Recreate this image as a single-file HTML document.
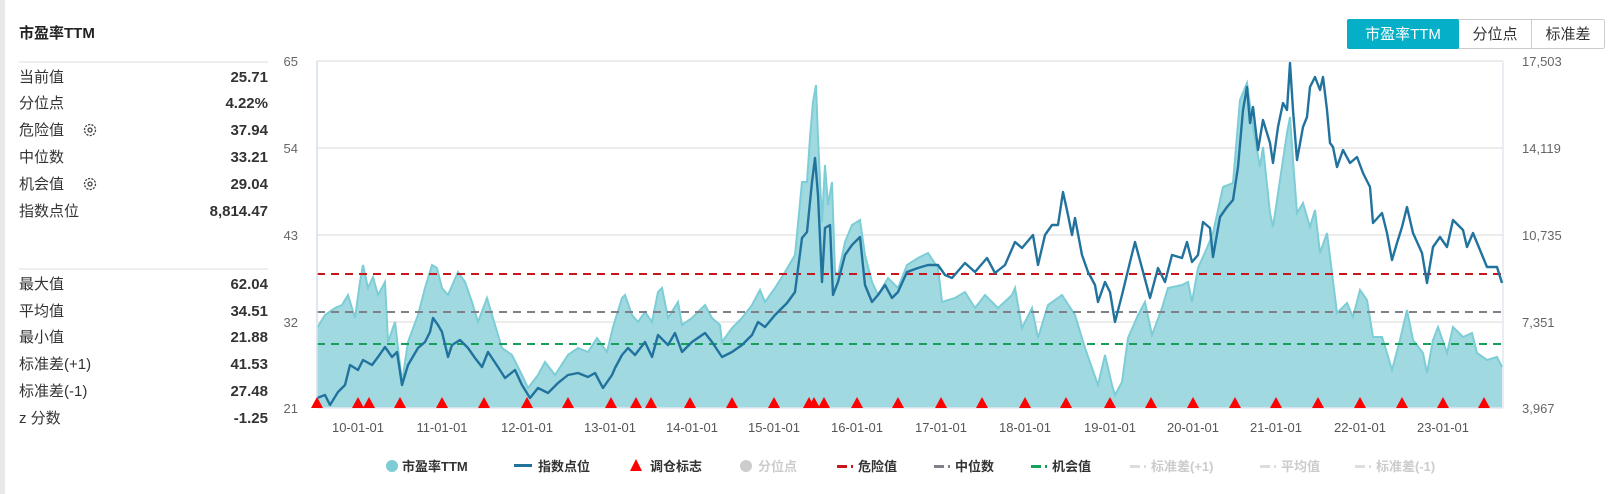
<!DOCTYPE html>
<html><head><meta charset="utf-8"><style>
body{margin:0;width:1612px;height:494px;background:#fff;overflow:hidden;font-family:"Liberation Sans","Noto Sans CJK SC",sans-serif;}
svg{position:absolute;left:0;top:0}
</style></head><body>
<svg width="1612" height="494" viewBox="0 0 1612 494" font-family="Liberation Sans, Noto Sans CJK SC, sans-serif">
<rect x="0" y="0" width="5" height="494" fill="#e8e8e8"/>
<text x="19" y="38" font-size="15" font-weight="bold" fill="#222">市盈率TTM</text>
<line x1="19" y1="62" x2="268" y2="62" stroke="#ddd"/>
<line x1="19" y1="269" x2="268" y2="269" stroke="#ddd"/>
<g font-size="15" fill="#333">
<text x="19" y="82">当前值</text><text x="19" y="108">分位点</text><text x="19" y="135">危险值</text>
<text x="19" y="162">中位数</text><text x="19" y="189">机会值</text><text x="19" y="216">指数点位</text>
<text x="19" y="289">最大值</text><text x="19" y="316">平均值</text><text x="19" y="342">最小值</text>
<text x="19" y="369">标准差(+1)</text><text x="19" y="396">标准差(-1)</text><text x="19" y="423">z 分数</text>
</g>
<g font-size="15" fill="#333" font-weight="bold" text-anchor="end">
<text x="268" y="82">25.71</text><text x="268" y="108">4.22%</text><text x="268" y="135">37.94</text>
<text x="268" y="162">33.21</text><text x="268" y="189">29.04</text><text x="268" y="216">8,814.47</text>
<text x="268" y="289">62.04</text><text x="268" y="316">34.51</text><text x="268" y="342">21.88</text>
<text x="268" y="369">41.53</text><text x="268" y="396">27.48</text><text x="268" y="423">-1.25</text>
</g>
<g fill="none" stroke="#444" stroke-width="1.3">
<circle cx="90" cy="130" r="5.5" stroke-dasharray="2.2 1.2"/><circle cx="90" cy="130" r="2"/>
<circle cx="90" cy="184" r="5.5" stroke-dasharray="2.2 1.2"/><circle cx="90" cy="184" r="2"/>
</g>
<rect x="1347.5" y="19.5" width="257" height="29" fill="#fff" stroke="#ccc" rx="2"/>
<rect x="1347" y="19" width="112" height="30" fill="#06afc8" rx="2"/>
<line x1="1531.5" y1="20" x2="1531.5" y2="48" stroke="#ccc"/>
<text x="1403" y="39" font-size="15" fill="#fff" text-anchor="middle">市盈率TTM</text>
<text x="1495" y="39" font-size="15" fill="#333" text-anchor="middle">分位点</text>
<text x="1568" y="39" font-size="15" fill="#333" text-anchor="middle">标准差</text>
<g stroke="#e6e6e6" stroke-width="1.5">
<line x1="317" y1="61" x2="1503" y2="61"/><line x1="317" y1="148" x2="1503" y2="148"/>
<line x1="317" y1="235" x2="1503" y2="235"/><line x1="317" y1="322" x2="1503" y2="322"/>
</g>
<line x1="1503" y1="61" x2="1503" y2="408" stroke="#e3e8f0" stroke-width="1.5"/>
<g font-size="13" fill="#666">
<g text-anchor="end"><text x="298" y="66">65</text><text x="298" y="153">54</text><text x="298" y="240">43</text><text x="298" y="327">32</text><text x="298" y="413">21</text></g>
<text x="1522" y="66">17,503</text><text x="1522" y="153">14,119</text><text x="1522" y="240">10,735</text><text x="1522" y="327">7,351</text><text x="1522" y="413">3,967</text>
</g>
<polygon fill="#a1d9e1" points="317,408 317,328 325,315 335,308 342,305 348,295 355,318 360,282 363,265 368,288 373,277 378,295 385,282 388,342 395,322 402,382 408,342 418,315 425,288 432,265 437,268 442,288 448,295 458,272 465,282 472,302 478,322 487,298 492,315 502,348 512,355 522,375 528,388 538,375 545,362 555,375 568,355 578,348 588,352 597,338 607,352 613,327 622,298 625,295 632,315 638,322 645,312 652,322 658,292 662,288 668,318 678,302 682,325 692,318 705,305 712,318 720,325 722,342 732,328 742,318 752,305 760,290 765,302 775,288 785,272 795,255 802,182 807,182 810,138 813,102 816,85 818,138 822,222 825,165 828,205 832,182 835,272 838,275 845,242 852,225 860,220 865,255 872,282 878,295 888,278 898,288 907,265 918,258 928,253 938,268 942,302 955,298 965,292 975,308 985,295 998,308 1012,295 1015,288 1022,328 1032,308 1038,338 1048,305 1062,295 1075,315 1085,348 1092,368 1098,385 1105,355 1112,385 1115,395 1122,382 1128,338 1138,315 1145,302 1152,335 1162,308 1168,288 1182,285 1188,282 1192,302 1198,268 1207,248 1213,233 1223,187 1233,183 1240,100 1247,83 1253,127 1257,150 1260,167 1263,147 1270,213 1273,227 1280,180 1287,133 1290,117 1293,160 1297,213 1303,203 1310,227 1315,210 1320,253 1327,233 1332,273 1337,313 1347,303 1353,317 1360,290 1367,300 1373,337 1382,337 1387,353 1392,370 1400,340 1407,310 1413,340 1423,353 1427,373 1433,340 1438,327 1447,353 1453,327 1463,337 1472,333 1477,353 1487,360 1497,357 1502,367 1502,408"/>
<polyline fill="none" stroke="#7dcdd6" stroke-width="2" points="317,328 325,315 335,308 342,305 348,295 355,318 360,282 363,265 368,288 373,277 378,295 385,282 388,342 395,322 402,382 408,342 418,315 425,288 432,265 437,268 442,288 448,295 458,272 465,282 472,302 478,322 487,298 492,315 502,348 512,355 522,375 528,388 538,375 545,362 555,375 568,355 578,348 588,352 597,338 607,352 613,327 622,298 625,295 632,315 638,322 645,312 652,322 658,292 662,288 668,318 678,302 682,325 692,318 705,305 712,318 720,325 722,342 732,328 742,318 752,305 760,290 765,302 775,288 785,272 795,255 802,182 807,182 810,138 813,102 816,85 818,138 822,222 825,165 828,205 832,182 835,272 838,275 845,242 852,225 860,220 865,255 872,282 878,295 888,278 898,288 907,265 918,258 928,253 938,268 942,302 955,298 965,292 975,308 985,295 998,308 1012,295 1015,288 1022,328 1032,308 1038,338 1048,305 1062,295 1075,315 1085,348 1092,368 1098,385 1105,355 1112,385 1115,395 1122,382 1128,338 1138,315 1145,302 1152,335 1162,308 1168,288 1182,285 1188,282 1192,302 1198,268 1207,248 1213,233 1223,187 1233,183 1240,100 1247,83 1253,127 1257,150 1260,167 1263,147 1270,213 1273,227 1280,180 1287,133 1290,117 1293,160 1297,213 1303,203 1310,227 1315,210 1320,253 1327,233 1332,273 1337,313 1347,303 1353,317 1360,290 1367,300 1373,337 1382,337 1387,353 1392,370 1400,340 1407,310 1413,340 1423,353 1427,373 1433,340 1438,327 1447,353 1453,327 1463,337 1472,333 1477,353 1487,360 1497,357 1502,367"/>
<g stroke-width="2" stroke-dasharray="8 6">
<line x1="317" y1="274" x2="1503" y2="274" stroke="#c8161d"/>
<line x1="317" y1="312" x2="1503" y2="312" stroke="#808088"/>
<line x1="317" y1="344" x2="1503" y2="344" stroke="#16a05a"/>
</g>
<polyline fill="none" stroke="#21739e" stroke-width="2.4" stroke-linejoin="round" points="317,398 325,395 330,405 338,392 345,385 350,365 358,370 363,360 372,365 378,357 385,347 392,357 397,352 402,385 408,365 418,348 425,342 430,332 433,318 438,325 442,332 448,357 452,345 460,340 468,348 475,358 482,367 488,352 498,367 505,378 515,370 522,385 530,398 538,388 548,393 558,383 568,375 578,373 588,377 595,373 603,388 612,375 615,368 622,355 628,348 635,355 645,342 652,357 658,335 668,345 675,333 682,352 692,342 705,333 712,342 722,357 732,352 742,345 752,335 758,322 765,327 775,315 787,303 795,292 802,238 807,232 812,182 815,158 818,195 822,282 825,228 830,225 833,295 838,282 845,255 852,245 860,237 865,285 872,302 878,295 885,285 892,298 898,292 907,272 918,268 928,265 938,265 945,275 952,278 965,263 975,272 987,258 995,273 1005,265 1015,242 1022,248 1033,235 1038,265 1045,235 1052,225 1058,225 1063,192 1068,215 1072,235 1075,218 1082,255 1088,272 1095,285 1098,302 1105,282 1110,292 1115,322 1122,295 1130,262 1135,242 1142,268 1150,298 1158,268 1165,282 1172,255 1182,258 1187,242 1192,262 1198,255 1203,222 1210,228 1213,257 1220,217 1227,207 1233,200 1238,167 1243,110 1247,87 1250,123 1253,107 1258,150 1263,120 1270,143 1273,163 1278,127 1283,103 1287,110 1290,63 1293,110 1297,160 1303,127 1307,117 1310,87 1315,77 1320,90 1323,77 1327,110 1330,143 1333,147 1337,167 1343,150 1350,163 1357,157 1363,173 1370,187 1373,223 1382,213 1387,233 1392,260 1397,243 1402,227 1407,207 1413,233 1422,253 1427,283 1433,247 1440,237 1447,247 1453,220 1463,230 1467,247 1473,233 1480,250 1487,267 1497,267 1502,283"/>
<line x1="317" y1="61" x2="317" y2="408" stroke="#d5dfeb" stroke-width="1.5"/>
<line x1="317" y1="408" x2="1503" y2="408" stroke="#e3e8f0" stroke-width="1.5"/>
<g fill="#f00">
<polygon points="317,397 311,408 323,408"/><polygon points="358,397 352,408 364,408"/><polygon points="369,397 363,408 375,408"/><polygon points="400,397 394,408 406,408"/><polygon points="442,397 436,408 448,408"/><polygon points="484,397 478,408 490,408"/><polygon points="527,397 521,408 533,408"/><polygon points="568,397 562,408 574,408"/><polygon points="611,397 605,408 617,408"/><polygon points="636,397 630,408 642,408"/><polygon points="651,397 645,408 657,408"/><polygon points="690,397 684,408 696,408"/><polygon points="732,397 726,408 738,408"/><polygon points="774,397 768,408 780,408"/><polygon points="809,397 803,408 815,408"/><polygon points="814,397 808,408 820,408"/><polygon points="824,397 818,408 830,408"/><polygon points="857,397 851,408 863,408"/><polygon points="898,397 892,408 904,408"/><polygon points="941,397 935,408 947,408"/><polygon points="982,397 976,408 988,408"/><polygon points="1025,397 1019,408 1031,408"/><polygon points="1066,397 1060,408 1072,408"/><polygon points="1110,397 1104,408 1116,408"/><polygon points="1151,397 1145,408 1157,408"/><polygon points="1193,397 1187,408 1199,408"/><polygon points="1235,397 1229,408 1241,408"/><polygon points="1276,397 1270,408 1282,408"/><polygon points="1318,397 1312,408 1324,408"/><polygon points="1360,397 1354,408 1366,408"/><polygon points="1402,397 1396,408 1408,408"/><polygon points="1443,397 1437,408 1449,408"/><polygon points="1484,397 1478,408 1490,408"/>
</g>
<g font-size="13" fill="#555" text-anchor="middle">
<text x="358" y="432">10-01-01</text><text x="442" y="432">11-01-01</text><text x="527" y="432">12-01-01</text><text x="610" y="432">13-01-01</text><text x="692" y="432">14-01-01</text><text x="774" y="432">15-01-01</text><text x="857" y="432">16-01-01</text><text x="941" y="432">17-01-01</text><text x="1025" y="432">18-01-01</text><text x="1110" y="432">19-01-01</text><text x="1193" y="432">20-01-01</text><text x="1276" y="432">21-01-01</text><text x="1360" y="432">22-01-01</text><text x="1443" y="432">23-01-01</text>
</g>
<g font-size="13" font-weight="bold">
<circle cx="392" cy="466" r="6" fill="#7ecdd6"/><text x="402" y="471" fill="#333">市盈率TTM</text>
<rect x="514" y="464" width="18" height="3" fill="#21739e"/><text x="538" y="471" fill="#333">指数点位</text>
<polygon points="636,459 630,471 642,471" fill="#f00"/><text x="650" y="471" fill="#333">调仓标志</text>
<circle cx="746" cy="466" r="6" fill="#ccc"/><text x="758" y="471" fill="#ccc">分位点</text>
<rect x="837" y="465" width="10" height="3" fill="#c8161d"/><rect x="851" y="465" width="2" height="3" fill="#c8161d"/><text x="858" y="471" fill="#333">危险值</text>
<rect x="934" y="465" width="10" height="3" fill="#808088"/><rect x="948" y="465" width="2" height="3" fill="#808088"/><text x="955" y="471" fill="#333">中位数</text>
<rect x="1031" y="465" width="10" height="3" fill="#16a05a"/><rect x="1045" y="465" width="2" height="3" fill="#16a05a"/><text x="1052" y="471" fill="#333">机会值</text>
<rect x="1130" y="465" width="10" height="3" fill="#ddd"/><rect x="1144" y="465" width="2" height="3" fill="#ddd"/><text x="1151" y="471" fill="#ccc">标准差(+1)</text>
<rect x="1260" y="465" width="10" height="3" fill="#ddd"/><rect x="1274" y="465" width="2" height="3" fill="#ddd"/><text x="1281" y="471" fill="#ccc">平均值</text>
<rect x="1355" y="465" width="10" height="3" fill="#ddd"/><rect x="1369" y="465" width="2" height="3" fill="#ddd"/><text x="1376" y="471" fill="#ccc">标准差(-1)</text>
</g>
</svg>
</body></html>
